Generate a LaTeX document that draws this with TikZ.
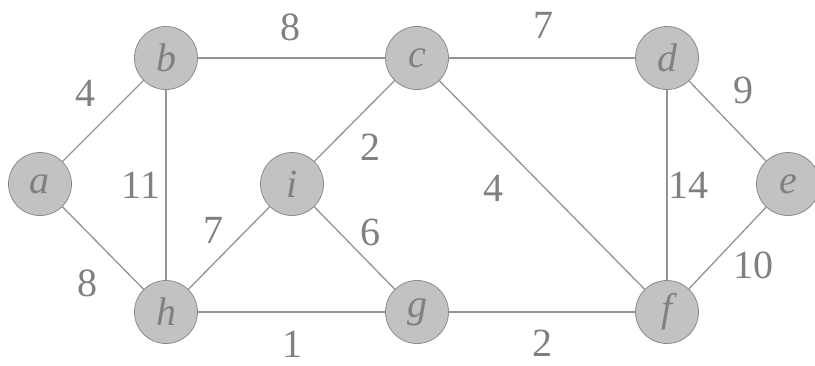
\documentclass[tikz,border=0pt]{standalone}
\usepackage{fontspec}
\setmainfont{Liberation Serif}
\definecolor{nodefill}{gray}{0.76}
\definecolor{nodeline}{gray}{0.55}
\definecolor{edgecol}{gray}{0.58}
\definecolor{txtcol}{gray}{0.5}
\begin{document}
\begin{tikzpicture}[x=1pt,y=-1pt,
  vert/.style={circle,draw=nodeline,line width=0.8pt,fill=nodefill,minimum size=63pt,inner sep=0pt,
    font=\fontsize{40}{40}\selectfont\itshape,text=txtcol},
  edge/.style={draw=edgecol,line width=1.3pt},
  wt/.style={font=\fontsize{40}{40}\selectfont,text=txtcol,inner sep=0pt,text height=27pt,text depth=0pt}]
\useasboundingbox (0,0) rectangle (815,365);
\fill[white] (0,0) rectangle (815,365);
\node[vert] (a) at (40,184) {a};
\node[vert] (b) at (166,58) {b};
\node[vert] (c) at (417,58) {c};
\node[vert] (d) at (667,58) {d};
\node[vert] (e) at (788,184) {e};
\node[vert] (f) at (667,312) {f};
\node[vert] (g) at (417,312) {g};
\node[vert] (h) at (166,312) {h};
\node[vert] (i) at (292,184) {i};
\draw[edge] (a) -- (b);
\draw[edge] (a) -- (h);
\draw[edge] (b) -- (c);
\draw[edge] (b) -- (h);
\draw[edge] (c) -- (d);
\draw[edge] (c) -- (i);
\draw[edge] (c) -- (f);
\draw[edge] (d) -- (e);
\draw[edge] (d) -- (f);
\draw[edge] (e) -- (f);
\draw[edge] (f) -- (g);
\draw[edge] (g) -- (h);
\draw[edge] (g) -- (i);
\draw[edge] (h) -- (i);
\node[wt] (w1) at (85,93) {4};
\node[wt] (w2) at (290,27) {8};
\node[wt] (w3) at (141,185) {11};
\node[wt] (w4) at (213,230) {7};
\node[wt] (w5) at (87,283) {8};
\node[wt] (w6) at (292,344) {1};
\node[wt] (w7) at (370,147) {2};
\node[wt] (w8) at (493,188) {4};
\node[wt] (w9) at (370,232) {6};
\node[wt] (w10) at (542,343) {2};
\node[wt] (w11) at (543,25) {7};
\node[wt] (w12) at (743,90) {9};
\node[wt] (w13) at (688,185) {14};
\node[wt] (w14) at (753,265) {10};
\end{tikzpicture}
\end{document}
